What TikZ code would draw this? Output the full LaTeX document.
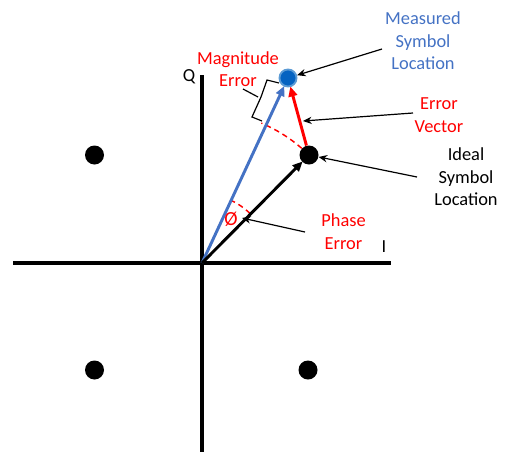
\documentclass[tikz,border=0pt]{standalone}
\usepackage{fontspec}
\setmainfont{Carlito}
\usetikzlibrary{arrows.meta,calc}
\definecolor{tblue}{HTML}{4472C4}
\definecolor{mfill}{HTML}{0563C1}
\definecolor{mring}{HTML}{5B9BD5}
\definecolor{ered}{HTML}{FF0000}
\tikzset{
  axis/.style={line width=2.3pt, black},
  dotnode/.style={circle, fill=black, inner sep=0pt, minimum size=14.25pt},
  vecarrow/.style={line width=2.2pt, -{Triangle[length=7.5pt,width=6.5pt]}, shorten >=-0.5pt},
  leader/.style={line width=0.9pt, -{Stealth[length=6.5pt,width=5.5pt]}},
  lbl/.style={inner sep=0pt, align=center, font=\fontsize{13.8}{16.8}\selectfont},
  dasharc/.style={ered, line width=1.1pt, dash pattern=on 4pt off 3pt},
}
\begin{document}
\begin{tikzpicture}[x=0.75pt,y=-0.75pt]
\useasboundingbox (0,0) rectangle (506,461);
% axes
\coordinate (O) at (202,263);
\coordinate (xl) at (13,263);
\coordinate (xr) at (391,263);
\coordinate (yt) at (202,75);
\coordinate (yb) at (202,452);
\draw[axis] (xl) -- (xr);
\draw[axis] (yt) -- (yb);
\node[lbl] (Ilab) at (384,247) {I};
\node[lbl] (Qlab) at (189,77) {Q};
% constellation points
\node[dotnode] (p1) at (94.5,155) {};
\node[dotnode] (p2) at (94.5,370) {};
\node[dotnode] (p3) at (308,370) {};
\node[dotnode] (ideal) at (309,155) {};
\node[circle, fill=mfill, draw=mring, line width=1.4pt, inner sep=0pt, minimum size=12.8pt] (meas) at (288,78) {};
% dashed arcs
\draw[dasharc] ($(O)+(-49:152)$) arc (-49:-67:152);
\draw[dasharc] ($(O)+(-46:69)$) arc (-46:-66:69);
% vectors
\draw[vecarrow, tblue] (O) -- (meas);
\draw[vecarrow, black] (O) -- (ideal);
\draw[vecarrow, ered] (ideal) -- (meas);
% magnitude brace
\coordinate (b1) at (279,83);
\coordinate (b2) at (267,80);
\coordinate (b3) at (261,97);
\coordinate (b4) at (252,117);
\coordinate (b5) at (262,121);
\coordinate (btip) at (258,97);
\coordinate (bend) at (243,89);
\draw[line width=0.9pt] (b1) -- (b2) -- (b3) -- (b4) -- (b5);
\draw[line width=0.9pt] (btip) -- (bend);
% labels
\node[lbl, text=tblue] (mlab) at (423,41) {Measured\\Symbol\\Location};
\node[lbl, text=ered] (maglab) at (238,69) {Magnitude\\Error};
\node[lbl, text=ered] (evlab) at (439,115) {Error\\Vector};
\node[lbl, text=black] (ilab) at (466,177) {Ideal\\Symbol\\Location};
\node[lbl, text=ered] (plab) at (343.5,231.5) {Phase\\Error};
\node[lbl, text=ered, font=\fontsize{15}{18}\selectfont] (phi) at (231,219) {Ø};
% leaders
\coordinate (ms) at (382,49);
\coordinate (es) at (413,113);
\coordinate (et) at (303,121);
\coordinate (is) at (417,177);
\coordinate (ps) at (305,232);
\coordinate (pt) at (242,218);
\draw[leader] (ms) -- (meas);
\draw[leader] (es) -- (et);
\draw[leader] (is) -- (ideal);
\draw[leader] (ps) -- (pt);
\end{tikzpicture}
\end{document}
